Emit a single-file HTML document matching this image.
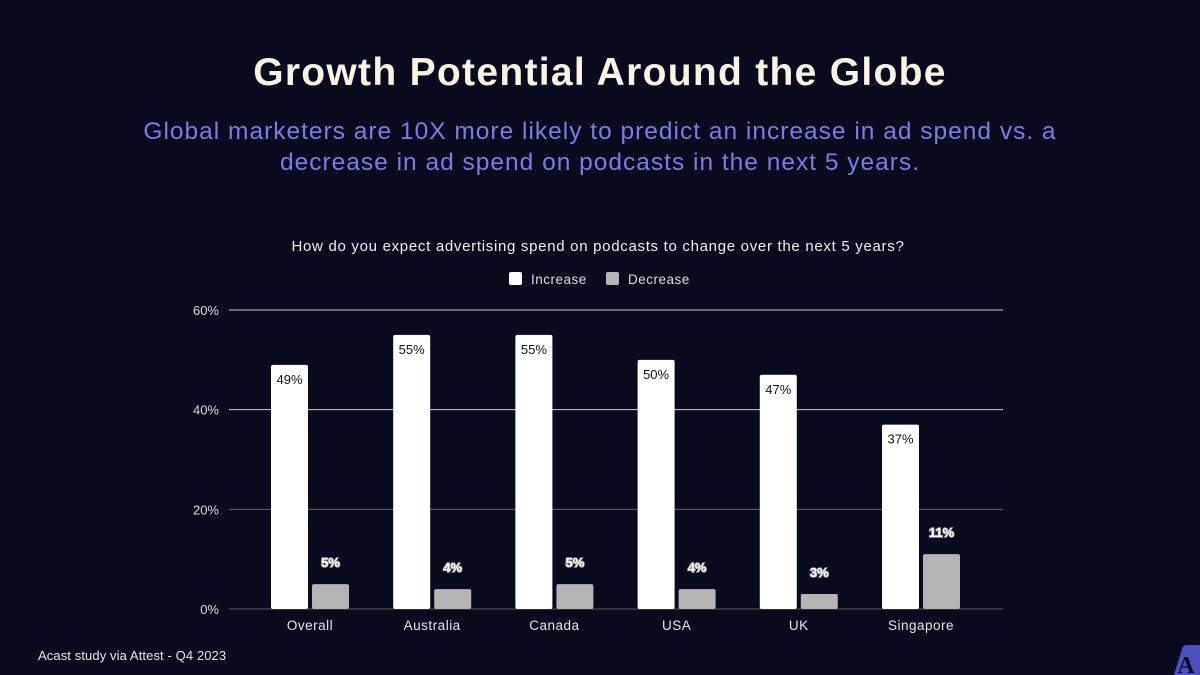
<!DOCTYPE html>
<html><head><meta charset="utf-8"><style>
body{margin:0;width:1200px;height:675px;background:#0a0a1e;overflow:hidden;font-family:"Liberation Sans",sans-serif;position:relative}
.t{position:absolute;left:0;width:1200px;text-align:center}
</style></head><body>
<div class="t" style="top:51px;font-size:39px;font-weight:bold;color:#fbf3e3;letter-spacing:1.3px">Growth Potential Around the Globe</div>
<div class="t" style="top:116px;font-size:24.5px;line-height:31px;color:#7d7ce6;letter-spacing:1px">Global marketers are 10X more likely to predict an increase in ad spend vs. a<br>decrease in ad spend on podcasts in the next 5 years.</div>
<div style="position:absolute;left:38px;top:648px;font-size:13px;color:#e6e6e6;letter-spacing:0.1px">Acast study via Attest - Q4 2023</div>
<svg style="position:absolute;left:1168px;top:645px" width="32" height="30"><path d="M6 30 L14 4 Q15 0 19 0 L32 0 L32 30 Z" fill="#4b4fc0"/><text x="18" y="28" font-family="Liberation Serif,serif" font-weight="bold" font-size="24" fill="#0a0a1e" text-anchor="middle">A</text></svg>
<svg id="chart" width="1200" height="675" style="position:absolute;left:0;top:0"></svg>
<script>
const categories=["Overall","Australia","Canada","USA","UK","Singapore"];
const increaseValues=[49,55,55,50,47,37];
const decreaseValues=[5,4,5,4,3,11];
const yTicks=[0,20,40,60];
const svg=document.getElementById('chart');
const NS='http://www.w3.org/2000/svg';
function mk(tag,attrs,txt){const e=document.createElementNS(NS,tag);for(const k in attrs)e.setAttribute(k,attrs[k]);if(txt!==undefined)e.textContent=txt;svg.appendChild(e);return e;}
const x0=229,x1=1003,yBase=609,yTop=310,yMax=60;
const y=v=>yBase-(yBase-yTop)*v/yMax;
const gw=122.2;
const cx=i=>310+gw*i;
let e=mk('text',{x:598,y:251,'font-size':15,fill:'#eee','text-anchor':'middle','letter-spacing':0.7},'How do you expect advertising spend on podcasts to change over the next 5 years?');


e=mk('rect',{x:509,y:272,width:13,height:13,rx:2,fill:'#fff'});


e=mk('text',{x:531,y:284,'font-size':13.5,fill:'#ddd','letter-spacing':0.5},'Increase');


e=mk('rect',{x:606,y:272,width:13,height:13,rx:2,fill:'#b4b4b4'});


e=mk('text',{x:628,y:284,'font-size':13.5,fill:'#ddd','letter-spacing':0.5},'Decrease');


yTicks.forEach(t=>{
 const l=mk('line',{x1:x0,x2:x1,y1:y(t),y2:y(t),stroke:t==0?'#555':(t==20?'#666':'#ccc'),'stroke-width':1});
 
 
 const tx=mk('text',{x:219,y:y(t)+5,'font-size':13,fill:'#ddd','text-anchor':'end'},t+'%');
 
 
});
categories.forEach((c,i)=>{
 const c0=cx(i),bw=37;
 const bi=mk('rect',{x:c0-bw-2,y:y(increaseValues[i]),width:bw,height:yBase-y(increaseValues[i]),rx:2,fill:'#fff'});
 
 
 const li=mk('text',{x:c0-bw/2-2,y:y(increaseValues[i])+19,'font-size':13,fill:'#111','text-anchor':'middle'},increaseValues[i]+'%');
 
 
 const bd=mk('rect',{x:c0+2,y:y(decreaseValues[i]),width:bw,height:yBase-y(decreaseValues[i]),rx:2,fill:'#b4b4b4'});
 
 
 const ld=mk('text',{x:c0+2+bw/2,y:y(decreaseValues[i])-17,'font-size':13,'font-weight':'bold',fill:'#fff',stroke:'#999','stroke-width':1.5,'paint-order':'stroke','text-anchor':'middle'},decreaseValues[i]+'%');
 
 
 const xl=mk('text',{x:c0,y:630,'font-size':13.5,fill:'#e6e6e6','text-anchor':'middle','letter-spacing':0.5},c);
 
 
});
</script>
</body></html>
